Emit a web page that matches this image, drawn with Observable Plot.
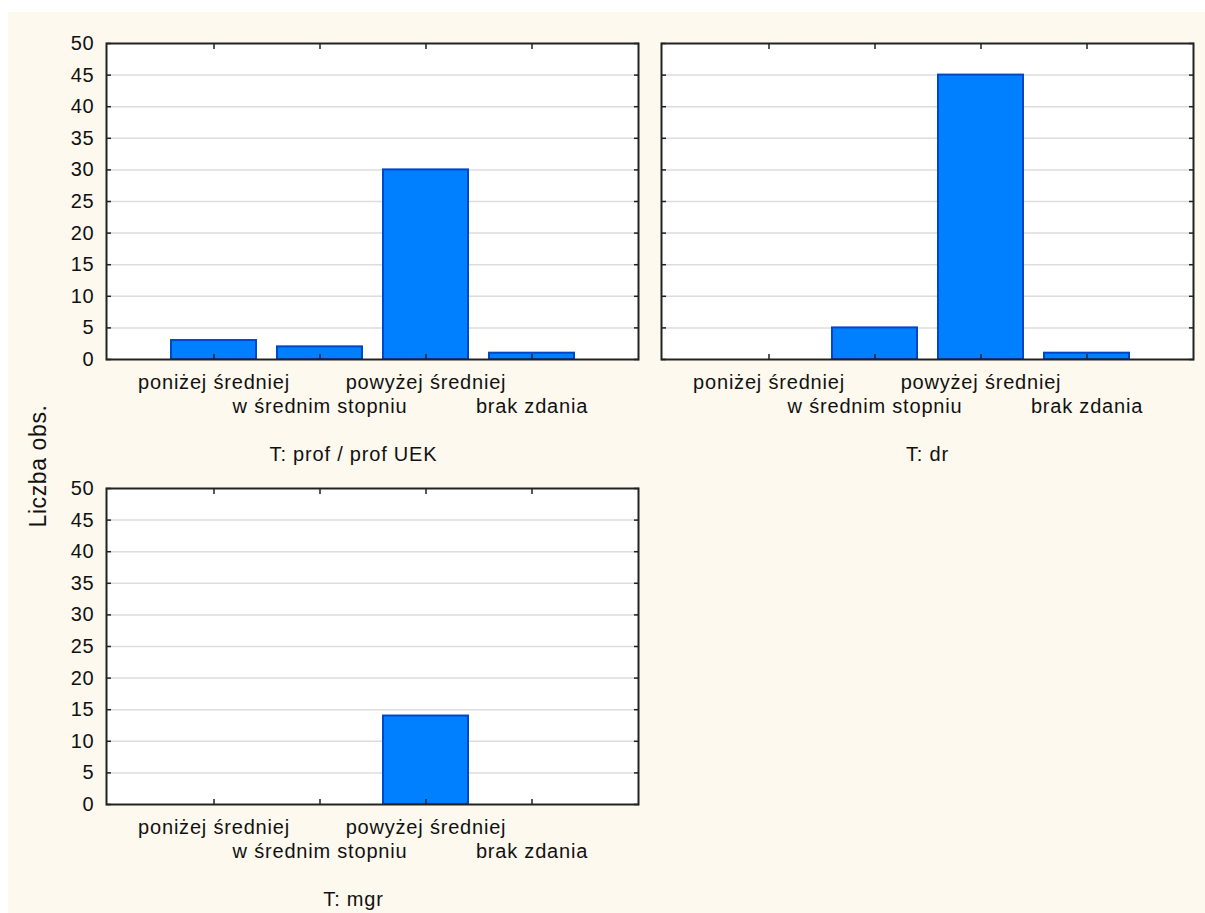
<!DOCTYPE html>
<html><head><meta charset="utf-8">
<script src="https://cdn.jsdelivr.net/npm/d3@7"></script>
<script src="https://cdn.jsdelivr.net/npm/@observablehq/plot@0.6"></script>
<style>
body{margin:0;background:#fff;}
#wrap{position:relative;width:1205px;height:913px;background:#fff;overflow:hidden;font-family:"Liberation Sans",Arial,sans-serif;}
#bg{position:absolute;left:8px;top:12px;width:1197px;height:901px;background:#FDF9EE;}
.panel{position:absolute;}
#ylab{position:absolute;left:38px;top:466px;transform:translate(-50%,-50%) rotate(-90deg);font-size:23px;letter-spacing:0.6px;white-space:nowrap;color:#111;}
</style></head><body>
<div id="wrap"><div id="bg"></div><div id="ylab">Liczba obs.</div></div>
<script>
const categories = ["poniżej średniej", "w średnim stopniu", "powyżej średniej", "brak zdania"];
const panelTitles = ["T: prof / prof UEK", "T: dr", "T: mgr"];
const profValues = [3, 2, 30, 1];
const drValues = [0, 5, 45, 1];
const mgrValues = [0, 0, 14, 0];
const yTicks = [0, 5, 10, 15, 20, 25, 30, 35, 40, 45, 50];
const gridTicks = [5, 10, 15, 20, 25, 30, 35, 40, 45];

const FONT = '"Liberation Sans", Arial, sans-serif';

function panel(values, title, showY, titleDx, height, left, top) {
  const data = categories.map((c, i) => ({category: c, count: values[i], row: i % 2}));
  const tickStyle = {tickFormat: () => "", label: null, stroke: "#222", strokeWidth: 1.5, tickSize: -5};
  const marks = [
    Plot.frame({fill: "white", stroke: null}),
    Plot.gridY(gridTicks, {stroke: "#dcdcdc", strokeOpacity: 1, strokeWidth: 1.5}),
    Plot.barY(data.filter(d => d.count > 0), {x: "category", y: "count", fill: "#0080FF", stroke: "#0046C8", strokeWidth: 2}),
    Plot.axisX({anchor: "bottom", ...tickStyle}),
    Plot.axisX({anchor: "top", ...tickStyle}),
    Plot.axisY(yTicks, {anchor: "left", ...tickStyle}),
    Plot.axisY(yTicks, {anchor: "right", ...tickStyle}),
    Plot.frame({stroke: "#222", strokeWidth: 2}),
    Plot.text(data.filter(d => d.row === 0), {x: "category", text: "category", frameAnchor: "bottom", dy: 29, fill: "#111"}),
    Plot.text(data.filter(d => d.row === 1), {x: "category", text: "category", frameAnchor: "bottom", dy: 53, fill: "#111"}),
    Plot.text([title], {text: d => d, frameAnchor: "bottom", dy: 101, dx: titleDx, fill: "#111"})
  ];
  if (showY) marks.push(Plot.axisY(yTicks, {anchor: "left", tickSize: 0, tickPadding: 12, label: null, fill: "#111"}));
  const svg = Plot.plot({
    width: 650, height,
    marginLeft: 106, marginRight: 12, marginTop: 43, marginBottom: height - 43 - 316,
    style: {background: "transparent", fontFamily: FONT, fontSize: "20px", letterSpacing: "0.8px", overflow: "visible"},
    x: {type: "band", domain: categories, paddingInner: 0.2, paddingOuter: 0.6, align: 0.5, axis: null},
    y: {domain: [0, 50], axis: null},
    marks
  });
  svg.classList.add("panel");
  svg.style.left = left + "px";
  svg.style.top = top + "px";
  svg.style.position = "absolute";
  document.getElementById("wrap").appendChild(svg);
}

panel(profValues, panelTitles[0], true, -19, 480, 0, 0);
panel(drValues, panelTitles[1], false, 0, 480, 555, 0);
panel(mgrValues, panelTitles[2], true, -19, 468, 0, 445);
</script>
</body></html>
